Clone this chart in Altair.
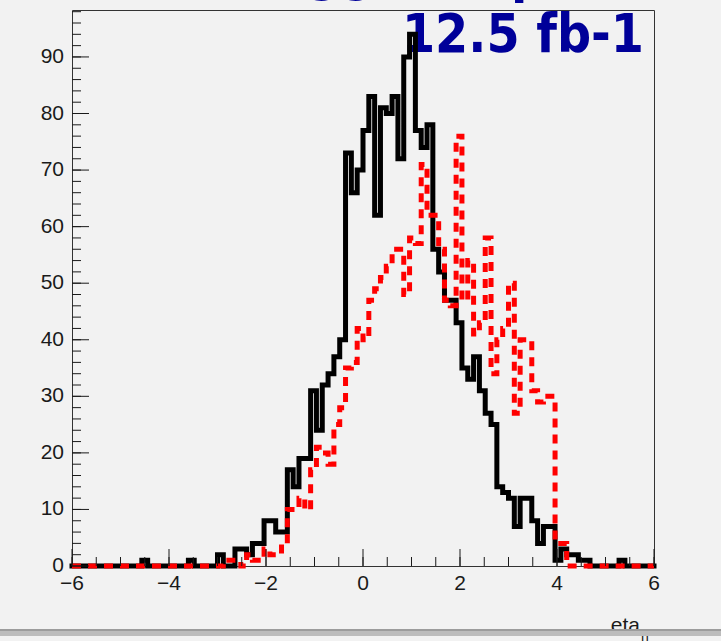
import altair as alt
import numpy as np
import pandas as pd

# Histogram binning: 100 bins of width 0.12 on [-6, 6]
x_lo, x_hi, n_bins = -6.0, 6.0, 100

# Bin contents, solid black histogram
black_counts = [
    0, 0, 0, 0, 0, 0, 0, 0, 0, 0,
    0, 0, 1, 0, 0, 0, 0, 0, 0, 0,
    1, 0, 0, 0, 0, 2, 0, 0, 3, 3,
    2, 4, 4, 8, 8, 6, 6, 17, 14, 19,
    19, 31, 24, 32, 34, 37, 40, 73, 66, 70,
    77, 83, 62, 81, 80, 83, 72, 90, 94, 77,
    74, 78, 56, 52, 47, 47, 43, 35, 33, 37,
    31, 27, 25, 14, 13, 12, 7, 12, 12, 8,
    4, 7, 7, 1, 3, 2, 2, 1, 1, 0,
    0, 0, 0, 0, 1, 0, 0, 0, 0, 0,
]

# Bin contents, dashed red histogram
red_counts = [
    0, 0, 0, 0, 0, 0, 0, 0, 0, 0,
    0, 0, 0, 0, 0, 0, 0, 0, 0, 0,
    0, 0, 0, 0, 0, 0, 1, 1, 1, 0,
    2, 1, 1, 3, 2, 2, 4, 10, 10, 12,
    10, 17, 21, 20, 18, 25, 28, 35, 36, 42,
    40, 47, 49, 51, 53, 56, 56, 48, 58, 57,
    71, 62, 62, 56, 47, 46, 76, 47, 54, 41,
    43, 58, 34, 40, 42, 50, 27, 40, 40, 31,
    29, 30, 30, 4, 4, 0, 0, 0, 0, 0,
    0, 0, 0, 0, 0, 0, 0, 0, 0, 0,
]

x_major = [-6, -4, -2, 0, 2, 4, 6]
y_major = [0, 10, 20, 30, 40, 50, 60, 70, 80, 90]
lumi_text = "12.5 fb-1"
x_title = "eta"
x_title_sub = "h"

W, H = 582, 556
Y_TOP = 98.3

edges = np.linspace(x_lo, x_hi, n_bins + 1)


def step_frame(counts):
    # left edge of every bin, plus the closing right edge
    vals = list(counts) + [counts[-1]]
    return pd.DataFrame({"edge": edges, "count": vals})


def tick_text(v):
    return str(v).replace("-", "\u2212")


x_scale = alt.Scale(domain=[x_lo, x_hi], nice=False, zero=False)
y_scale = alt.Scale(domain=[0, Y_TOP], nice=False, zero=False)

LABEL_FONT = "Liberation Sans"
INK = "#1a1a1a"

black_hist = alt.Chart(step_frame(black_counts)).mark_line(
    interpolate="step-after", color="#000000", strokeWidth=5,
    strokeJoin="miter", strokeCap="square",
).encode(
    x=alt.X("edge:Q", scale=x_scale, axis=None),
    y=alt.Y("count:Q", scale=y_scale, axis=None),
)

red_hist = alt.Chart(step_frame(red_counts)).mark_line(
    interpolate="step-after", color="#ff0000", strokeWidth=5,
    strokeDash=[9, 7], strokeJoin="miter", strokeCap="butt",
).encode(
    x=alt.X("edge:Q", scale=x_scale, axis=None),
    y=alt.Y("count:Q", scale=y_scale, axis=None),
)


def text_layer(s, px, py, **kw):
    return alt.Chart(pd.DataFrame({"t": [s]})).mark_text(**kw).encode(
        x=alt.value(px), y=alt.value(py), text="t:N")


# luminosity label, drawn under the histograms
lumi = text_layer(lumi_text, 572, 42, align="right", baseline="alphabetic",
                  font="DejaVu Sans Condensed, DejaVu Sans", fontWeight="bold",
                  fontSize=53, color="#000099")

# descenders of the heading line above, cut by the canvas edge
head_a = text_layer("gg", 269, -20, align="center", baseline="alphabetic",
                    font="DejaVu Sans Condensed, DejaVu Sans", fontWeight="bold",
                    fontSize=53, color="#000099")
head_b = text_layer("p", 456, -18, align="center", baseline="alphabetic",
                    font="DejaVu Sans Condensed, DejaVu Sans", fontWeight="bold",
                    fontSize=53, color="#000099")

# tick labels
x_lab = pd.DataFrame({"v": x_major, "t": [tick_text(v) for v in x_major]})
y_lab = pd.DataFrame({"v": y_major, "t": [tick_text(v) for v in y_major]})
x_labels = alt.Chart(x_lab).mark_text(
    align="center", baseline="middle", font=LABEL_FONT, fontSize=21, color=INK,
).encode(x=alt.X("v:Q", scale=x_scale, axis=None), y=alt.value(H + 18), text="t:N")
y_labels = alt.Chart(y_lab).mark_text(
    align="right", baseline="middle", font=LABEL_FONT, fontSize=21, color=INK,
).encode(y=alt.Y("v:Q", scale=y_scale, axis=None), x=alt.value(-8), text="t:N")

# inward ticks on the x axis
xt_minor = pd.DataFrame({"v": np.arange(x_lo, x_hi + 0.01, 0.5)})
xt_major = pd.DataFrame({"v": x_major})
x_minor_ticks = alt.Chart(xt_minor).mark_rule(color=INK, strokeWidth=1).encode(
    x=alt.X("v:Q", scale=x_scale, axis=None), y=alt.value(H), y2=alt.value(H - 9))
x_major_ticks = alt.Chart(xt_major).mark_rule(color=INK, strokeWidth=1).encode(
    x=alt.X("v:Q", scale=x_scale, axis=None), y=alt.value(H), y2=alt.value(H - 17))

# inward ticks on the y axis
yt_minor = pd.DataFrame({"v": np.arange(0, Y_TOP, 2.0)})
yt_major = pd.DataFrame({"v": y_major})
y_minor_ticks = alt.Chart(yt_minor).mark_rule(color=INK, strokeWidth=1).encode(
    y=alt.Y("v:Q", scale=y_scale, axis=None), x=alt.value(0), x2=alt.value(9))
y_major_ticks = alt.Chart(yt_major).mark_rule(color=INK, strokeWidth=1).encode(
    y=alt.Y("v:Q", scale=y_scale, axis=None), x=alt.value(0), x2=alt.value(17))

# axis title with subscript
xt_main = text_layer(x_title, 568, 622, align="right", baseline="alphabetic",
                     font=LABEL_FONT, fontSize=21, color=INK)
xt_sub = text_layer(x_title_sub, 569, 631, align="left", baseline="alphabetic",
                    font=LABEL_FONT, fontSize=14, color=INK)

# window border strip along the bottom
strip_dark = alt.Chart(pd.DataFrame({"a": [0]})).mark_rect(color="#9c9c9c").encode(
    x=alt.value(-72), x2=alt.value(649), y=alt.value(619), y2=alt.value(621))
strip_light = alt.Chart(pd.DataFrame({"a": [0]})).mark_rect(color="#bcbcbc").encode(
    x=alt.value(-72), x2=alt.value(649), y=alt.value(621), y2=alt.value(626))

chart = alt.layer(
    lumi, head_a, head_b, black_hist, red_hist,
    x_minor_ticks, x_major_ticks, y_minor_ticks, y_major_ticks,
    x_labels, y_labels,
    xt_main, xt_sub, strip_dark, strip_light,
).properties(
    width=W, height=H,
    background="#f2f2f2",
    autosize=alt.AutoSizeParams(type="none"),
    padding={"left": 72, "top": 10, "right": 67, "bottom": 75},
).configure_view(
    stroke="#333333", strokeWidth=1, fill="#f2f2f2",
)

chart.save("out.html", embed_options={"renderer": "svg", "actions": False})
